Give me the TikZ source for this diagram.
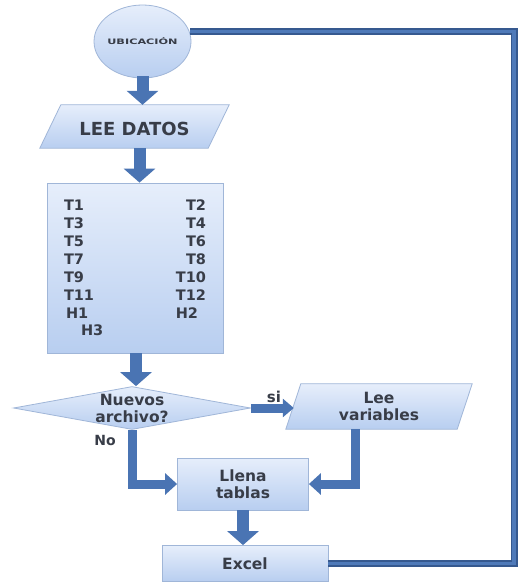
\documentclass[tikz,border=0pt]{standalone}
\usepackage{fontspec}
\usepackage{graphicx}
\setmainfont{DejaVu Sans}
\usetikzlibrary{shapes.geometric,arrows.meta}
\pgfdeclarelayer{background}
\pgfsetlayers{background,main}

\definecolor{boxtop}{HTML}{E6EEFB}
\definecolor{boxbottom}{HTML}{B8CEF0}
\definecolor{boxedge}{HTML}{A0B6D8}
\definecolor{inktext}{HTML}{383D48}
\definecolor{arrowblue}{HTML}{4A74B3}
\definecolor{loopdark}{HTML}{36598F}
\definecolor{loopmid}{HTML}{4F7AB9}

\tikzset{
  flowbox/.style={draw=boxedge, line width=0.8pt, top color=boxtop, bottom color=boxbottom, inner sep=0pt},
  flowtext/.style={text=inktext, font=\fontsize{15.5}{17}\selectfont\bfseries, align=center},
  bigarrow/.style={draw=arrowblue, line width=12pt, -{Triangle[width=31pt,length=14pt]}},
  thinarrow/.style={draw=arrowblue, line width=9pt, line join=miter, -{Triangle[width=21pt,length=12pt]}},
  siarrow/.style={draw=arrowblue, line width=9pt, -{Triangle[width=18pt,length=11pt]}},
  returnline/.style={draw=loopdark, line width=1.6pt, double=loopmid, double distance=3.8pt, line join=miter},
}

\begin{document}
\begin{tikzpicture}[x=1pt,y=-1pt]
\useasboundingbox (0,0) rectangle (518,582);

% start symbol
\node[flowbox, ellipse, minimum width=97pt, minimum height=73pt] (ubic) at (142.5,41.5) {};
\node[text=inktext] (ubictext) at (ubic.center) {\scalebox{1.5}[1]{\fontsize{7.5}{8}\selectfont\bfseries UBICACIÓN}};

% input: LEE DATOS
\node[flowtext, font=\fontsize{18}{20}\selectfont\bfseries, minimum width=189pt, minimum height=43pt,
      inner sep=0pt, text height=17pt, text depth=0pt] (lee) at (134.5,126.5) {LEE DATOS};

% list of tables
\node[flowbox, minimum width=176pt, minimum height=170pt, text width=142pt, align=left, text=inktext,
      font=\fontsize{14.5}{17.9}\selectfont\bfseries] (tbox) at (135,268)
  {T1\hfill T2\\
   T3\hfill T4\\
   T5\hfill T6\\
   T7\hfill T8\\
   T9\hfill T10\\
   T11\hfill T12\\
   \hspace*{2pt}H1\hfill H2\makebox[8pt]{}\\
   \hspace*{17pt}H3};

% decision
\node[flowbox, diamond, minimum width=237pt, minimum height=43pt] (dia) at (132,408) {};
\node[flowtext] (diatext) at (dia.center) {Nuevos\\archivo?};

% input: Lee variables
\node[flowtext, minimum width=186pt, minimum height=45pt, inner sep=0pt] (leevar) at (379,406.5) {Lee\\variables};

% processes
\node[flowbox, flowtext, minimum width=131pt, minimum height=52pt] (llena) at (243,484) {Llena\\tablas};
\node[flowbox, flowtext, minimum width=166pt, minimum height=36pt] (excel) at (245,563.5) {Excel};

% branch labels
\node[flowtext, font=\fontsize{15}{17}\selectfont\bfseries] (si) at (274,397) {si};
\node[flowtext, font=\fontsize{14}{16}\selectfont\bfseries] (no) at (105,440) {No};

% parallelogram bodies behind their texts
\begin{pgfonlayer}{background}
  \fill[white] (0,0) rectangle (518,582);
  \path[flowbox] ([xshift=21pt]lee.north west) -- (lee.north east)
        -- ([xshift=-21pt]lee.south east) -- (lee.south west) -- cycle;
  \path[flowbox] ([xshift=15pt]leevar.north west) -- (leevar.north east)
        -- ([xshift=-15pt]leevar.south east) -- (leevar.south west) -- cycle;
\end{pgfonlayer}

\coordinate (loopcorner) at (514,31.5);

% connectors
\draw[bigarrow] ([yshift=2pt]ubic.south) -- (ubic.south |- lee.north);
\draw[bigarrow] ([xshift=5pt]lee.south) -- ([xshift=5pt]lee.south |- tbox.north);
\draw[bigarrow] ([xshift=1pt]tbox.south) -- ([xshift=1pt]tbox.south |- dia.north);
\draw[siarrow] (dia.east) -- ([xshift=8pt]dia.east -| leevar.west);
\draw[thinarrow] (dia.south) |- (llena.west);
\draw[thinarrow] ([xshift=-24pt]leevar.south) |- (llena.east);
\draw[bigarrow] (llena.south) -- (llena.south |- excel.north);
\draw[returnline] (excel.east) -| (loopcorner) -- (loopcorner -| ubic.12);
\end{tikzpicture}
\end{document}
